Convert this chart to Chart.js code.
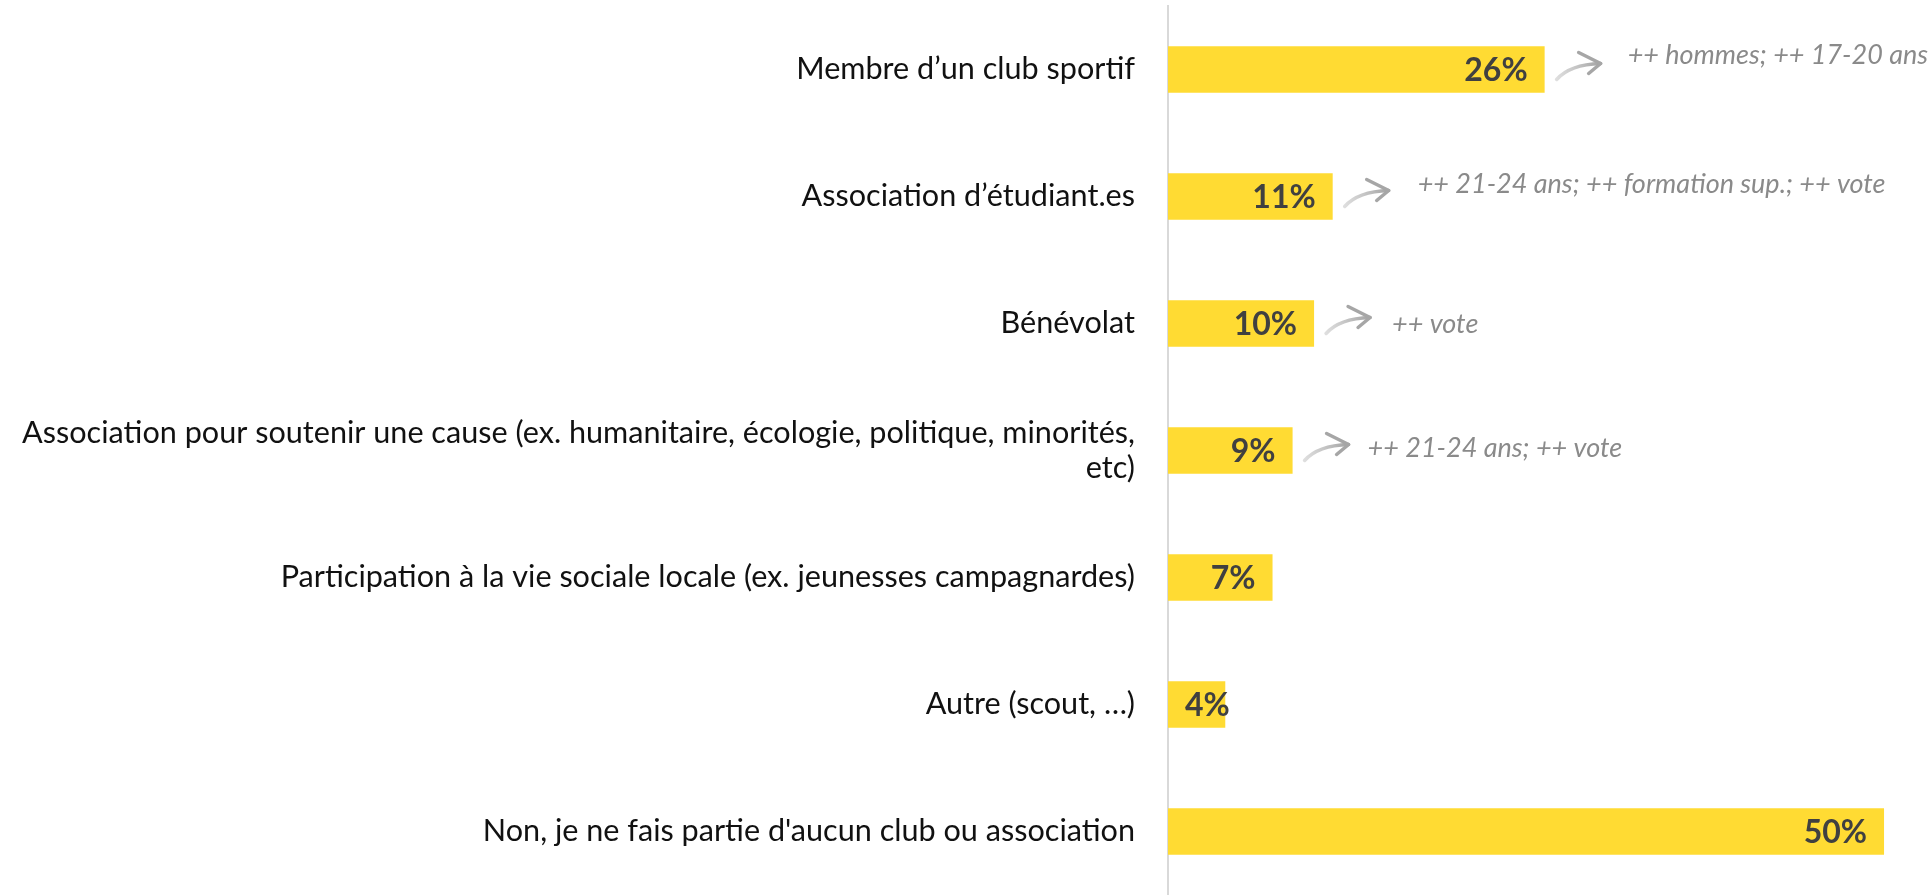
<!DOCTYPE html>
<html><head><meta charset="utf-8">
<script src="https://cdn.jsdelivr.net/npm/chart.js@4.4.1/dist/chart.umd.min.js"></script>
<style>html,body{margin:0;padding:0;background:#fff;overflow:hidden}#wrap{width:1929px;height:895px;position:relative}</style>
</head><body><div id="wrap"><canvas id="c"></canvas></div>
<script>
const categories = [
  'Membre d’un club sportif',
  'Association d’étudiant.es',
  'Bénévolat',
  ['Association pour soutenir une cause (ex. humanitaire, écologie, politique, minorités,', 'etc)'],
  'Participation à la vie sociale locale (ex. jeunesses campagnardes)',
  'Autre (scout, …)',
  "Non, je ne fais partie d'aucun club ou association"
];
const values = [26.3, 11.5, 10.2, 8.7, 7.3, 4.0, 50.0];
const valueLabels = ['26%', '11%', '10%', '9%', '7%', '4%', '50%'];
const notes = [
  '++ hommes; ++ 17-20 ans',
  '++ 21-24 ans; ++ formation sup.; ++ vote',
  '++ vote',
  '++ 21-24 ans; ++ vote',
  '', '', ''
];

const barTextPlugin = {
  id: 'barText',
  afterDatasetsDraw(chart, args, opts) {
    const ctx = chart.ctx;
    const meta = chart.getDatasetMeta(0);
    meta.data.forEach((bar, i) => {
      const end = bar.x, base = bar.base, cy = bar.y;
      ctx.save();
      ctx.font = opts.valueFont;
      ctx.fillStyle = opts.valueColor;
      ctx.textBaseline = 'middle';
      ctx.textAlign = 'left';
      const txt = valueLabels[i];
      const w = ctx.measureText(txt).width;
      let x = end - opts.inset - w;
      if (x < base + opts.inset) x = base + opts.inset;
      ctx.fillText(txt, x, cy + 1);
      const note = notes[i];
      if (note) {
        const tx = end + opts.arrowTail[0], ty = cy + opts.arrowTail[1];
        const hx = end + opts.arrowTip[0], hy = cy + opts.arrowTip[1];
        const g = ctx.createLinearGradient(tx, ty, hx, hy);
        g.addColorStop(0, 'rgba(200,200,200,0.6)');
        g.addColorStop(1, '#a2a2a2');
        ctx.strokeStyle = g;
        ctx.lineWidth = 3.5;
        ctx.lineCap = 'round';
        ctx.lineJoin = 'round';
        ctx.beginPath();
        ctx.moveTo(tx, ty);
        ctx.quadraticCurveTo(tx + (hx - tx) * 0.3, hy + 1, hx, hy);
        ctx.stroke();
        ctx.strokeStyle = '#a6a6a6';
        ctx.beginPath();
        ctx.moveTo(hx - 22, hy - 11);
        ctx.lineTo(hx, hy);
        ctx.lineTo(hx - 12, hy + 10);
        ctx.stroke();
        ctx.font = opts.noteFont;
        ctx.fillStyle = opts.noteColor;
        ctx.textBaseline = 'middle';
        ctx.fillText(note, end + opts.noteGap[i], cy + opts.noteDy[i]);
      }
      ctx.restore();
    });
  }
};

new Chart(document.getElementById('c'), {
  type: 'bar',
  data: {
    labels: categories,
    datasets: [{
      data: values,
      backgroundColor: '#FFDB33',
      borderWidth: 0,
      barPercentage: 0.366,
      categoryPercentage: 1.0
    }]
  },
  options: {
    indexAxis: 'y',
    responsive: true,
    maintainAspectRatio: false,
    animation: false,
    layout: { padding: { left: 0, right: 2, top: 6, bottom: 0 } },
    plugins: {
      legend: { display: false },
      tooltip: { enabled: false },
      barText: {
        valueFont: 'bold 32px Lato',
        valueColor: '#404040',
        inset: 17,
        arrowTail: [12, 10],
        arrowTip: [56, -6],
        noteFont: 'italic 27px Lato',
        noteColor: '#8a8a8a',
        noteGap: [83, 85, 78, 75, 80, 80, 80],
        noteDy: [-14, -12, 1, -2, 0, 0, 0]
      }
    },
    scales: {
      x: { display: false, min: 0, max: 53 },
      y: {
        afterFit(scale) {
          scale.width = 1168;
          scale.paddingTop = 0;
          scale.paddingBottom = 0;
        },
        grid: { display: false, drawTicks: false },
        border: { display: true, color: '#d9d9d9', width: 2 },
        ticks: {
          autoSkip: false,
          padding: 33,
          color: '#111111',
          font: { family: 'Lato', size: 30.6, lineHeight: 1.12 }
        }
      }
    }
  },
  plugins: [barTextPlugin]
});
</script>
</body></html>
